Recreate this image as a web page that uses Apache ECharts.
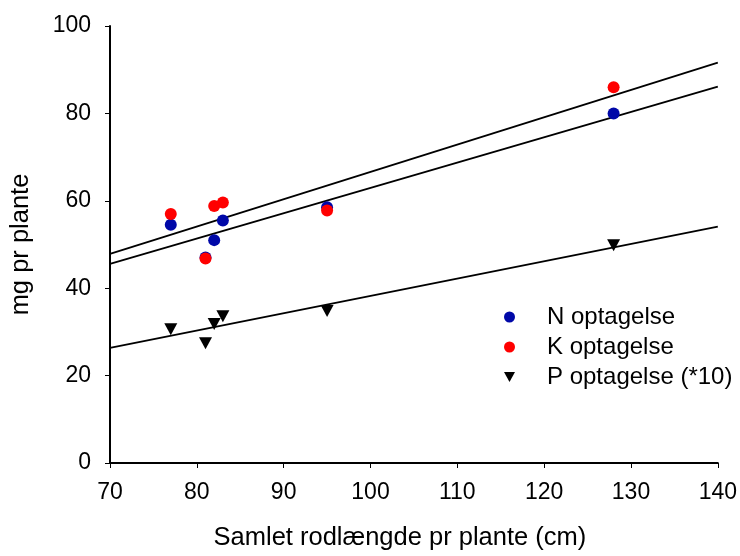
<!DOCTYPE html>
<html><head><meta charset="utf-8">
<script src="https://cdn.jsdelivr.net/npm/echarts@6/dist/echarts.min.js"></script>
<style>html,body{margin:0;padding:0;background:#fff}#c{width:740px;height:556px}</style>
</head><body><div id="c"></div>
<script>
const xTicks = [70, 80, 90, 100, 110, 120, 130, 140];
const yTicks = [0, 20, 40, 60, 80, 100];
const rootLengthN = [77, 81, 82, 83, 95, 128];
const nUptake = [54.5, 47, 51, 55.5, 58.5, 80];
const rootLengthK = [77, 81, 82, 83, 95, 128];
const kUptake = [57, 46.8, 58.8, 59.6, 57.8, 86];
const rootLengthP = [77, 81, 82, 83, 95, 128];
const pUptake = [30.6, 27.4, 31.8, 33.6, 34.8, 49.8];
const seriesNames = ['N optagelse', 'K optagelse', 'P optagelse (*10)'];

function fit(xs, ys) {
  const n = xs.length;
  const mx = xs.reduce((a, b) => a + b, 0) / n;
  const my = ys.reduce((a, b) => a + b, 0) / n;
  let sxy = 0, sxx = 0;
  for (let i = 0; i < n; i++) { sxy += (xs[i] - mx) * (ys[i] - my); sxx += (xs[i] - mx) ** 2; }
  const b = sxy / sxx, a = my - b * mx;
  const x0 = xTicks[0], x1 = xTicks[xTicks.length - 1];
  return [[x0, a + b * x0], [x1, a + b * x1]];
}
const pairs = (xs, ys) => xs.map((x, i) => [x, ys[i]]);

const lineStyle = { color: '#000', width: 1.8 };
const trend = (d) => ({ type: 'line', data: d, symbol: 'none', lineStyle, silent: true, z: 1, animation: false });
const triDown = 'path://M0,0 L12,0 L6,11 Z';

const chart = echarts.init(document.getElementById('c'));
chart.setOption({
  animation: false,
  textStyle: { fontFamily: 'Liberation Sans, Arial, sans-serif' },
  grid: { left: 110, right: 21, top: 26, bottom: 92 },
  xAxis: {
    type: 'value', min: xTicks[0], max: xTicks[xTicks.length - 1], interval: 10,
    name: 'Samlet rodlængde pr plante (cm)', nameLocation: 'middle', nameGap: 62,
    nameTextStyle: { fontSize: 25.5, color: '#000', padding: [0, 28, 0, 0] },
    axisLine: { lineStyle: { color: '#000', width: 2 } },
    axisTick: { lineStyle: { color: '#000' }, length: 5 },
    axisLabel: { fontSize: 23, color: '#000', margin: 18 },
    splitLine: { show: false }
  },
  yAxis: {
    type: 'value', min: yTicks[0], max: yTicks[yTicks.length - 1], interval: 20,
    name: 'mg pr plante', nameLocation: 'middle', nameGap: 76,
    nameTextStyle: { fontSize: 25.5, color: '#000' },
    axisLine: { show: true, lineStyle: { color: '#000', width: 2 } },
    axisTick: { show: true, lineStyle: { color: '#000' }, length: 5 },
    axisLabel: { fontSize: 23, color: '#000', margin: 19 },
    splitLine: { show: false }
  },
  legend: {
    data: [
      { name: seriesNames[0], icon: 'circle' },
      { name: seriesNames[1], icon: 'circle' },
      { name: seriesNames[2], icon: triDown }
    ],
    orient: 'vertical', left: 499, top: 300, itemGap: 6,
    itemWidth: 11, itemHeight: 11,
    textStyle: { fontSize: 24, color: '#000', padding: [0, 0, 0, 27] }
  },
  series: [
    trend(fit(rootLengthN, nUptake)),
    trend(fit(rootLengthK, kUptake)),
    trend(fit(rootLengthP, pUptake)),
    { name: seriesNames[0], type: 'scatter', data: pairs(rootLengthN, nUptake), symbol: 'circle', symbolSize: 12, itemStyle: { color: '#0008a8', opacity: 1 }, z: 3 },
    { name: seriesNames[1], type: 'scatter', data: pairs(rootLengthK, kUptake), symbol: 'circle', symbolSize: 12, itemStyle: { color: '#ff0000', opacity: 1 }, z: 4 },
    { name: seriesNames[2], type: 'scatter', data: pairs(rootLengthP, pUptake), symbol: triDown, symbolSize: [13, 12], itemStyle: { color: '#000', opacity: 1 }, z: 5 }
  ]
});
</script></body></html>
